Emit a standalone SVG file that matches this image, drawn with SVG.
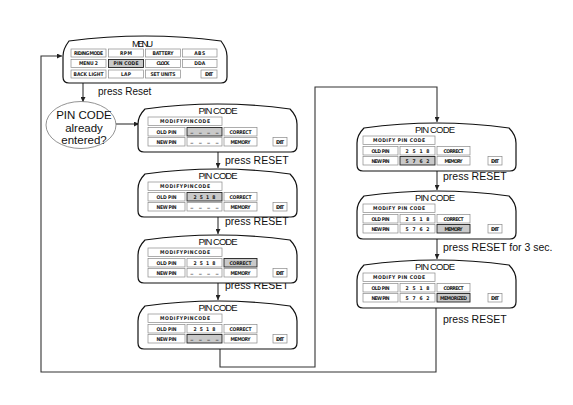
<svg xmlns="http://www.w3.org/2000/svg" xmlns:xlink="http://www.w3.org/1999/xlink" width="573" height="405" viewBox="0 0 573 405">
<style>
.scr{fill:#fff;stroke:#111;stroke-width:1.2}
.c{fill:#fff;stroke:#8a8a8a;stroke-width:0.7}
.h{fill:#c9c9c9;stroke:#222;stroke-width:0.9}
.t{font-family:"DejaVu Sans Condensed","DejaVu Sans",sans-serif;font-weight:bold;font-size:5px;fill:#222;text-anchor:middle}
.u{font-family:"DejaVu Sans Condensed","DejaVu Sans",sans-serif;font-weight:bold;font-size:6px;fill:#222;text-anchor:middle}
.ttl{font-family:"Liberation Sans",Arial,sans-serif;font-size:9.5px;fill:#111;text-anchor:middle}
.lbl{font-family:"Liberation Sans",Arial,sans-serif;font-size:10.5px;fill:#111}
.ell{font-family:"Liberation Sans",Arial,sans-serif;font-size:11.5px;fill:#111;text-anchor:middle}
.conn{fill:none;stroke:#333;stroke-width:1.1}
</style>
<defs>
<path id="scr" class="scr" d="M7,5 Q79.5,-5 152,5 C156,9 159,14 159,20 L159,42 Q159,48 153,48 L6,48 Q0,48 0,42 L0,20 C0,14 3,9 7,5 Z"/>
<marker id="arr" viewBox="0 0 10 10" refX="10" refY="5" markerWidth="5" markerHeight="5" markerUnits="userSpaceOnUse" orient="auto">
<path d="M0,0 L10,5 L0,10 Z" fill="#222"/>
</marker>
</defs>
<rect width="573" height="405" fill="#fff"/>

<g id="connectors">
<line class="conn" x1="83" y1="83" x2="83" y2="102" marker-end="url(#arr)"/>
<line class="conn" x1="116" y1="124" x2="139" y2="124" marker-end="url(#arr)"/>
<line class="conn" x1="218" y1="152" x2="218" y2="168" marker-end="url(#arr)"/>
<line class="conn" x1="218" y1="217" x2="218" y2="234" marker-end="url(#arr)"/>
<line class="conn" x1="218" y1="283" x2="218" y2="300" marker-end="url(#arr)"/>
<polyline class="conn" points="220,349 220,367 315,367 315,87 437,87 437,122" marker-end="url(#arr)"/>
<line class="conn" x1="437" y1="171" x2="437" y2="190" marker-end="url(#arr)"/>
<line class="conn" x1="437" y1="239" x2="437" y2="259" marker-end="url(#arr)"/>
<polyline class="conn" points="436,308 436,372 41,372 41,56 62,56" marker-end="url(#arr)"/>
<text class="lbl" x="98" y="95" style="font-size:10px">press Reset</text>
<text class="lbl" x="225" y="164">press RESET</text>
<text class="lbl" x="225" y="225">press RESET</text>
<text class="lbl" x="225" y="289">press RESET</text>
<text class="lbl" x="443" y="180">press RESET</text>
<text class="lbl" x="443" y="251">press RESET for 3 sec.</text>
<text class="lbl" x="443" y="323">press RESET</text>
</g>

<g id="menu">
<path class="scr" transform="translate(63,36)" d="M6,5 Q82,-5 158,5 C161,9 164,14 164,20 L164,41 Q164,47 158,47 L6,47 Q0,47 0,41 L0,20 C0,14 3,9 6,5 Z"/>
<text class="ttl" x="142.5" y="46.5" textLength="21">MENU</text>
<rect class="c" x="71" y="49" width="35" height="8"/><text class="t" x="88.5" y="54.8" textLength="29">RIDING MODE</text>
<rect class="c" x="108.5" y="49" width="35" height="8"/><text class="t" x="126" y="54.8" textLength="12">RPM</text>
<rect class="c" x="145.5" y="49" width="35" height="8"/><text class="t" x="163" y="54.8" textLength="21">BATTERY</text>
<rect class="c" x="182.5" y="49" width="34.5" height="8"/><text class="t" x="199.7" y="54.8" textLength="11">ABS</text>
<rect class="c" x="71" y="59.5" width="35" height="8"/><text class="t" x="88.5" y="65.3" textLength="19">MENU 2</text>
<rect class="h" x="108.5" y="59.5" width="35" height="8"/><text class="t" x="126" y="65.3" textLength="25">PIN CODE</text>
<rect class="c" x="145.5" y="59.5" width="35" height="8"/><text class="t" x="163" y="65.3" textLength="13">CLOCK</text>
<rect class="c" x="182.5" y="59.5" width="34.5" height="8"/><text class="t" x="199.7" y="65.3" textLength="11">DDA</text>
<rect class="c" x="71" y="70" width="35" height="8"/><text class="t" x="88.5" y="75.8" textLength="30">BACK LIGHT</text>
<rect class="c" x="108.5" y="70" width="35" height="8"/><text class="t" x="126" y="75.8" textLength="10">LAP</text>
<rect class="c" x="145.5" y="70" width="35" height="8"/><text class="t" x="163" y="75.8" textLength="25">SET UNITS</text>
<rect class="c" x="201" y="70" width="16" height="8"/><text class="t" x="209" y="75.8" textLength="8">EXIT</text>
</g>

<g id="decision">
<ellipse cx="81" cy="125" rx="35" ry="23.5" fill="#fff" stroke="#777" stroke-width="0.8"/>
<text class="ell" x="84" y="119">PIN CODE</text>
<text class="ell" x="84" y="131.5">already</text>
<text class="ell" x="84" y="144">entered?</text>
</g>

<g id="pin1" transform="translate(0,104)">
<use xlink:href="#scr" href="#scr" x="138"/>
<text class="ttl" x="218" y="9.5" textLength="39">PIN CODE</text>
<rect class="c" x="148" y="13" width="74" height="8.5"/><text class="t" x="185" y="19" textLength="50">MODIFYPINCODE</text>
<rect class="c" x="148" y="23.5" width="37" height="8.5"/><text class="t" x="166.5" y="29.5" textLength="20">OLD PIN</text>
<rect class="h" x="187" y="23.5" width="35" height="8.5"/><text class="u" x="204.5" y="27.5" textLength="28">_ _ _ _</text>
<rect class="c" x="224" y="23.5" width="33" height="8.5"/><text class="t" x="240.5" y="29.5" textLength="22">CORRECT</text>
<rect class="c" x="148" y="33.5" width="37" height="8.5"/><text class="t" x="166.5" y="39.5" textLength="20">NEW PIN</text>
<rect class="c" x="187" y="33.5" width="35" height="8.5"/><text class="u" x="204.5" y="37.5" textLength="28">_ _ _ _</text>
<rect class="c" x="224" y="33.5" width="33" height="8.5"/><text class="t" x="240.5" y="39.5" textLength="20">MEMORY</text>
<rect class="c" x="273" y="33.5" width="14" height="8.5"/><text class="t" x="280" y="39.5" textLength="8">EXIT</text>
</g>

<g id="pin2" transform="translate(0,169)">
<use xlink:href="#scr" href="#scr" x="138"/>
<text class="ttl" x="218" y="9.5" textLength="39">PIN CODE</text>
<rect class="c" x="148" y="13" width="74" height="8.5"/><text class="t" x="185" y="19" textLength="50">MODIFYPINCODE</text>
<rect class="c" x="148" y="23.5" width="37" height="8.5"/><text class="t" x="166.5" y="29.5" textLength="20">OLD PIN</text>
<rect class="h" x="187" y="23.5" width="35" height="8.5"/><text class="t" x="204.5" y="29.5" textLength="22">2 5 1 8</text>
<rect class="c" x="224" y="23.5" width="33" height="8.5"/><text class="t" x="240.5" y="29.5" textLength="22">CORRECT</text>
<rect class="c" x="148" y="33.5" width="37" height="8.5"/><text class="t" x="166.5" y="39.5" textLength="20">NEW PIN</text>
<rect class="c" x="187" y="33.5" width="35" height="8.5"/><text class="u" x="204.5" y="37.5" textLength="28">_ _ _ _</text>
<rect class="c" x="224" y="33.5" width="33" height="8.5"/><text class="t" x="240.5" y="39.5" textLength="20">MEMORY</text>
<rect class="c" x="273" y="33.5" width="14" height="8.5"/><text class="t" x="280" y="39.5" textLength="8">EXIT</text>
</g>

<g id="pin3" transform="translate(0,235)">
<use xlink:href="#scr" href="#scr" x="138"/>
<text class="ttl" x="218" y="9.5" textLength="39">PIN CODE</text>
<rect class="c" x="148" y="13" width="74" height="8.5"/><text class="t" x="185" y="19" textLength="50">MODIFYPINCODE</text>
<rect class="c" x="148" y="23.5" width="37" height="8.5"/><text class="t" x="166.5" y="29.5" textLength="20">OLD PIN</text>
<rect class="c" x="187" y="23.5" width="35" height="8.5"/><text class="t" x="204.5" y="29.5" textLength="22">2 5 1 8</text>
<rect class="h" x="224" y="23.5" width="33" height="8.5"/><text class="t" x="240.5" y="29.5" textLength="22">CORRECT</text>
<rect class="c" x="148" y="33.5" width="37" height="8.5"/><text class="t" x="166.5" y="39.5" textLength="20">NEW PIN</text>
<rect class="c" x="187" y="33.5" width="35" height="8.5"/><text class="u" x="204.5" y="37.5" textLength="28">_ _ _ _</text>
<rect class="c" x="224" y="33.5" width="33" height="8.5"/><text class="t" x="240.5" y="39.5" textLength="20">MEMORY</text>
<rect class="c" x="273" y="33.5" width="14" height="8.5"/><text class="t" x="280" y="39.5" textLength="8">EXIT</text>
</g>

<g id="pin4" transform="translate(0,301)">
<use xlink:href="#scr" href="#scr" x="138"/>
<text class="ttl" x="218" y="9.5" textLength="39">PIN CODE</text>
<rect class="c" x="148" y="13" width="74" height="8.5"/><text class="t" x="185" y="19" textLength="50">MODIFYPINCODE</text>
<rect class="c" x="148" y="23.5" width="37" height="8.5"/><text class="t" x="166.5" y="29.5" textLength="20">OLD PIN</text>
<rect class="c" x="187" y="23.5" width="35" height="8.5"/><text class="t" x="204.5" y="29.5" textLength="22">2 5 1 8</text>
<rect class="c" x="224" y="23.5" width="33" height="8.5"/><text class="t" x="240.5" y="29.5" textLength="22">CORRECT</text>
<rect class="c" x="148" y="33.5" width="37" height="8.5"/><text class="t" x="166.5" y="39.5" textLength="20">NEW PIN</text>
<rect class="h" x="187" y="33.5" width="35" height="8.5"/><text class="u" x="204.5" y="37.5" textLength="28">_ _ _ _</text>
<rect class="c" x="224" y="33.5" width="33" height="8.5"/><text class="t" x="240.5" y="39.5" textLength="20">MEMORY</text>
<rect class="c" x="273" y="33.5" width="14" height="8.5"/><text class="t" x="280" y="39.5" textLength="8">EXIT</text>
</g>

<g id="pin5" transform="translate(0,123)">
<use xlink:href="#scr" href="#scr" x="357"/>
<text class="ttl" x="435" y="9.5" textLength="40">PIN CODE</text>
<rect class="c" x="363" y="13" width="72" height="8.5"/><text class="t" x="399" y="19" textLength="52">MODIFY PIN CODE</text>
<rect class="c" x="363" y="23.5" width="35" height="8.5"/><text class="t" x="380.5" y="29.5" textLength="18">OLD PIN</text>
<rect class="c" x="400" y="23.5" width="35" height="8.5"/><text class="t" x="417.5" y="29.5" textLength="24">2 5 1 8</text>
<rect class="c" x="437" y="23.5" width="33" height="8.5"/><text class="t" x="453.5" y="29.5" textLength="20">CORRECT</text>
<rect class="c" x="363" y="33.5" width="35" height="8.5"/><text class="t" x="380.5" y="39.5" textLength="18">NEW PIN</text>
<rect class="h" x="400" y="33.5" width="35" height="8.5"/><text class="t" x="417.5" y="39.5" textLength="24">5 7 6 2</text>
<rect class="c" x="437" y="33.5" width="33" height="8.5"/><text class="t" x="453.5" y="39.5" textLength="18">MEMORY</text>
<rect class="c" x="488" y="33.5" width="14" height="8.5"/><text class="t" x="495" y="39.5" textLength="8">EXIT</text>
</g>

<g id="pin6" transform="translate(0,191)">
<use xlink:href="#scr" href="#scr" x="357"/>
<text class="ttl" x="435" y="9.5" textLength="40">PIN CODE</text>
<rect class="c" x="363" y="13" width="72" height="8.5"/><text class="t" x="399" y="19" textLength="52">MODIFY PIN CODE</text>
<rect class="c" x="363" y="23.5" width="35" height="8.5"/><text class="t" x="380.5" y="29.5" textLength="18">OLD PIN</text>
<rect class="c" x="400" y="23.5" width="35" height="8.5"/><text class="t" x="417.5" y="29.5" textLength="24">2 5 1 8</text>
<rect class="c" x="437" y="23.5" width="33" height="8.5"/><text class="t" x="453.5" y="29.5" textLength="20">CORRECT</text>
<rect class="c" x="363" y="33.5" width="35" height="8.5"/><text class="t" x="380.5" y="39.5" textLength="18">NEW PIN</text>
<rect class="c" x="400" y="33.5" width="35" height="8.5"/><text class="t" x="417.5" y="39.5" textLength="24">5 7 6 2</text>
<rect class="h" x="437" y="33.5" width="33" height="8.5"/><text class="t" x="453.5" y="39.5" textLength="18">MEMORY</text>
<rect class="c" x="488" y="33.5" width="14" height="8.5"/><text class="t" x="495" y="39.5" textLength="8">EXIT</text>
</g>

<g id="pin7" transform="translate(0,260)">
<use xlink:href="#scr" href="#scr" x="357"/>
<text class="ttl" x="435" y="9.5" textLength="40">PIN CODE</text>
<rect class="c" x="363" y="13" width="72" height="8.5"/><text class="t" x="399" y="19" textLength="52">MODIFY PIN CODE</text>
<rect class="c" x="363" y="23.5" width="35" height="8.5"/><text class="t" x="380.5" y="29.5" textLength="18">OLD PIN</text>
<rect class="c" x="400" y="23.5" width="35" height="8.5"/><text class="t" x="417.5" y="29.5" textLength="24">2 5 1 8</text>
<rect class="c" x="437" y="23.5" width="33" height="8.5"/><text class="t" x="453.5" y="29.5" textLength="20">CORRECT</text>
<rect class="c" x="363" y="33.5" width="35" height="8.5"/><text class="t" x="380.5" y="39.5" textLength="18">NEW PIN</text>
<rect class="c" x="400" y="33.5" width="35" height="8.5"/><text class="t" x="417.5" y="39.5" textLength="24">5 7 6 2</text>
<rect class="h" x="437" y="33.5" width="33" height="8.5"/><text class="t" x="453.5" y="39.5" textLength="27">MEMORIZED</text>
<rect class="c" x="488" y="33.5" width="14" height="8.5"/><text class="t" x="495" y="39.5" textLength="8">EXIT</text>
</g>
</svg>
